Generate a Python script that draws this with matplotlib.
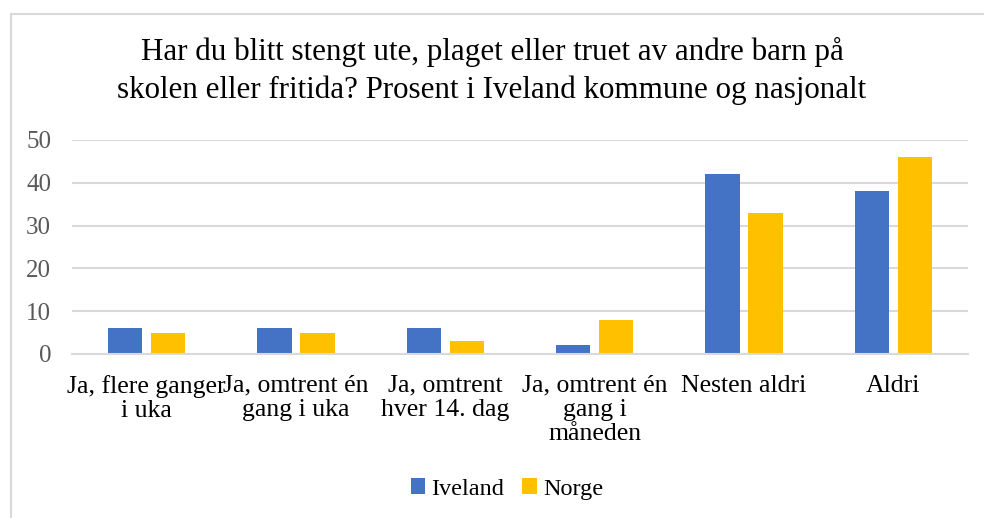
import matplotlib
matplotlib.use("Agg")
import matplotlib.pyplot as plt
import numpy as np
from matplotlib.lines import Line2D

categories = ["Ja, flere ganger\ni uka", "Ja, omtrent én\ngang i uka", "Ja, omtrent\nhver 14. dag",
              "Ja, omtrent én\ngang i\nmåneden", "Nesten aldri", "Aldri"]
iveland = [6, 6, 6, 2, 42, 38]
norge = [5, 5, 3, 8, 33, 46]
series_names = ["Iveland", "Norge"]
yticks = [0, 10, 20, 30, 40, 50]
title = "Har du blitt stengt ute, plaget eller truet av andre barn på\nskolen eller fritida? Prosent i Iveland kommune og nasjonalt"

plt.rcParams['font.family'] = ['Liberation Serif', 'DejaVu Serif']

W, H = 984, 518
fig = plt.figure(figsize=(W / 100, H / 100), dpi=100)
ax = fig.add_axes([72 / W, 1 - 354 / H, (968 - 72) / W, (354 - 140) / H])

x = np.arange(len(categories))
bw = 0.228
off = bw / 2 + 0.03
ax.bar(x - off, iveland, bw, color="#4472C4", label=series_names[0], zorder=3)
ax.bar(x + off, norge, bw, color="#FFC000", label=series_names[1], zorder=3)

ax.set_xlim(-0.5, len(categories) - 0.5)
ax.set_ylim(0, 50)
ax.set_yticks(yticks)
ax.set_yticklabels([str(v) for v in yticks])
ax.grid(axis="y", color="#d9d9d9", linewidth=1.5, zorder=0)
ax.set_axisbelow(True)
for s in ["top", "right", "left"]:
    ax.spines[s].set_visible(False)
ax.spines["bottom"].set_color("#d9d9d9")
ax.spines["bottom"].set_linewidth(1.5)
ax.spines["bottom"].set_zorder(4)
ax.tick_params(axis="y", length=0, labelsize=18, labelcolor="#595959", pad=15)
ax.tick_params(axis="x", length=0, labelsize=18.5, labelcolor="#000000", pad=15)
ax.set_xticks(x)
ax.set_xticklabels(categories, linespacing=1.12)

fig.text(492 / W, 1 - 71 / H, title, ha="center", va="center", fontsize=22.3,
         color="#000000", linespacing=1.38)

leg = fig.legend(loc="center", bbox_to_anchor=(507 / W, 1 - 489 / H), ncol=2, frameon=False,
                 fontsize=17.5, handlelength=0.6, handleheight=0.6, handletextpad=0.25,
                 columnspacing=0.75)

# chart border (cropped)
fig.add_artist(Line2D([10.5 / W, 10.5 / W], [0, 1 - 13.5 / H], color="#d9d9d9", linewidth=1.5,
                      transform=fig.transFigure))
fig.add_artist(Line2D([10.5 / W, 1], [1 - 13.5 / H, 1 - 13.5 / H], color="#d9d9d9", linewidth=1.5,
                      transform=fig.transFigure))

fig.savefig("out.png", dpi=100)
